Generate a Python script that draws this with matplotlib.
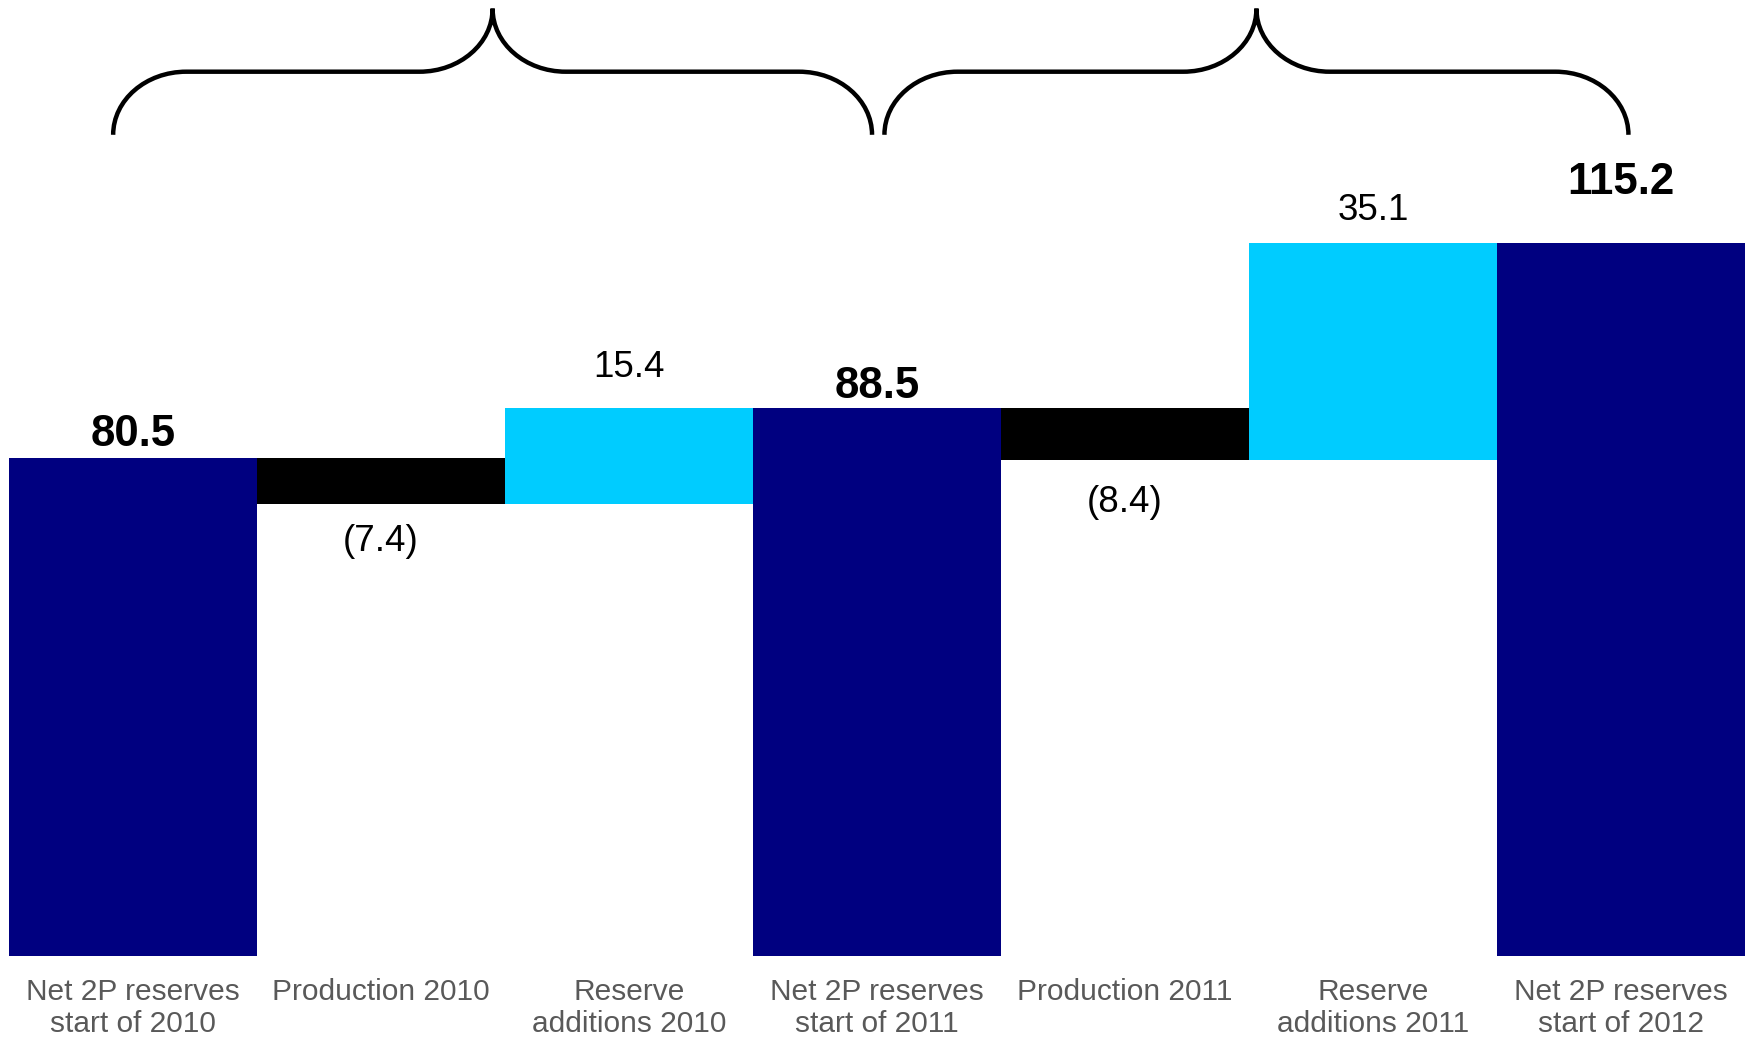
import numpy as np
import matplotlib
matplotlib.use("Agg")
import matplotlib.pyplot as plt
import matplotlib.transforms as mtransforms
from matplotlib.path import Path
from matplotlib.patches import PathPatch

plt.rcParams['font.family'] = ['Liberation Sans', 'DejaVu Sans']

# waterfall of net 2P reserves (mmboe)
categories = ['Net 2P reserves\nstart of 2010', 'Production 2010',
              'Reserve\nadditions 2010', 'Net 2P reserves\nstart of 2011',
              'Production 2011', 'Reserve\nadditions 2011',
              'Net 2P reserves\nstart of 2012']
values = [80.5, -7.4, 15.4, 88.5, -8.4, 35.1, 115.2]
kinds = ['total', 'production', 'addition', 'total', 'production',
         'addition', 'total']
# each brace groups the steps from one reserves figure to the next
brace_groups = [(0, 3), (3, 6)]

colors = {'total': '#000080', 'production': '#000000', 'addition': '#00CCFF'}
label_offset = [2, 15, 17, 0.5, 18, 11, 29]   # points, away from the bar


def waterfall(values, kinds):
    bottoms, heights = [], []
    level = 0.0
    for v, k in zip(values, kinds):
        if k == 'total':
            bottoms.append(0.0)
            heights.append(v)
            level = v
        elif v < 0:
            bottoms.append(level + v)
            heights.append(-v)
            level += v
        else:
            bottoms.append(level)
            heights.append(v)
            level += v
    return np.array(bottoms), np.array(heights)


def brace(ax, x0, x1, xtip, ybot, ymid, ytop, r, **kw):
    k = 0.5523
    trans = mtransforms.blended_transform_factory(ax.transData, ax.transAxes)
    verts = [(x0, ybot),
             (x0, ybot + k*(ymid-ybot)), (x0 + r*(1-k), ymid), (x0 + r, ymid),
             (xtip - r, ymid),
             (xtip - r*(1-k), ymid), (xtip, ymid + (1-k)*(ytop-ymid)), (xtip, ytop),
             (xtip, ymid + (1-k)*(ytop-ymid)), (xtip + r*(1-k), ymid), (xtip + r, ymid),
             (x1 - r, ymid),
             (x1 - r*(1-k), ymid), (x1, ybot + k*(ymid-ybot)), (x1, ybot)]
    codes = [Path.MOVETO,
             Path.CURVE4, Path.CURVE4, Path.CURVE4,
             Path.LINETO,
             Path.CURVE4, Path.CURVE4, Path.CURVE4,
             Path.CURVE4, Path.CURVE4, Path.CURVE4,
             Path.LINETO,
             Path.CURVE4, Path.CURVE4, Path.CURVE4]
    ax.add_patch(PathPatch(Path(verts, codes), transform=trans,
                           fill=False, clip_on=False, **kw))


fig = plt.figure(figsize=(17.56, 10.38), dpi=100)
ax = fig.add_axes([9/1756, 82/1038, 1736/1756, 956/1038])

x = np.arange(len(values))
bottoms, heights = waterfall(values, kinds)
ax.bar(x, heights, bottom=bottoms, width=1.0,
       color=[colors[k] for k in kinds], linewidth=0)

for xi, v, k, b, h, off in zip(x, values, kinds, bottoms, heights, label_offset):
    if k == 'total':
        ax.annotate(f'{v:.1f}', (xi, b + h), xytext=(0, off),
                    textcoords='offset points', ha='center', va='bottom',
                    fontsize=31.5, fontweight='bold', color='black')
    elif k == 'production':
        ax.annotate(f'({-v:.1f})', (xi, b), xytext=(0, -off),
                    textcoords='offset points', ha='center', va='top',
                    fontsize=26.5, color='black')
    else:
        ax.annotate(f'{v:.1f}', (xi, b + h), xytext=(0, off),
                    textcoords='offset points', ha='center', va='bottom',
                    fontsize=26.5, color='black')

for (i0, i1), dx in zip(brace_groups, [(-0.08, -0.02), (0.03, 0.03)]):
    x0 = i0 + dx[0]
    x1 = i1 + dx[1]
    brace(ax, x0, x1, (x0 + x1) / 2, 0.859, 0.925, 0.991, 0.295,
          edgecolor='black', linewidth=3.2)

ax.set_xlim(-0.5, len(values) - 0.5)
ax.set_ylim(0, 956 / 6.19)
ax.set_xticks(x, categories)
ax.tick_params(axis='x', length=0, pad=16, labelsize=21.5, labelcolor='#595959')
for lab in ax.get_xticklabels():
    lab.set_linespacing(1.17)
ax.set_yticks([])
for sp in ax.spines.values():
    sp.set_visible(False)

fig.savefig('out.png', dpi=100)
